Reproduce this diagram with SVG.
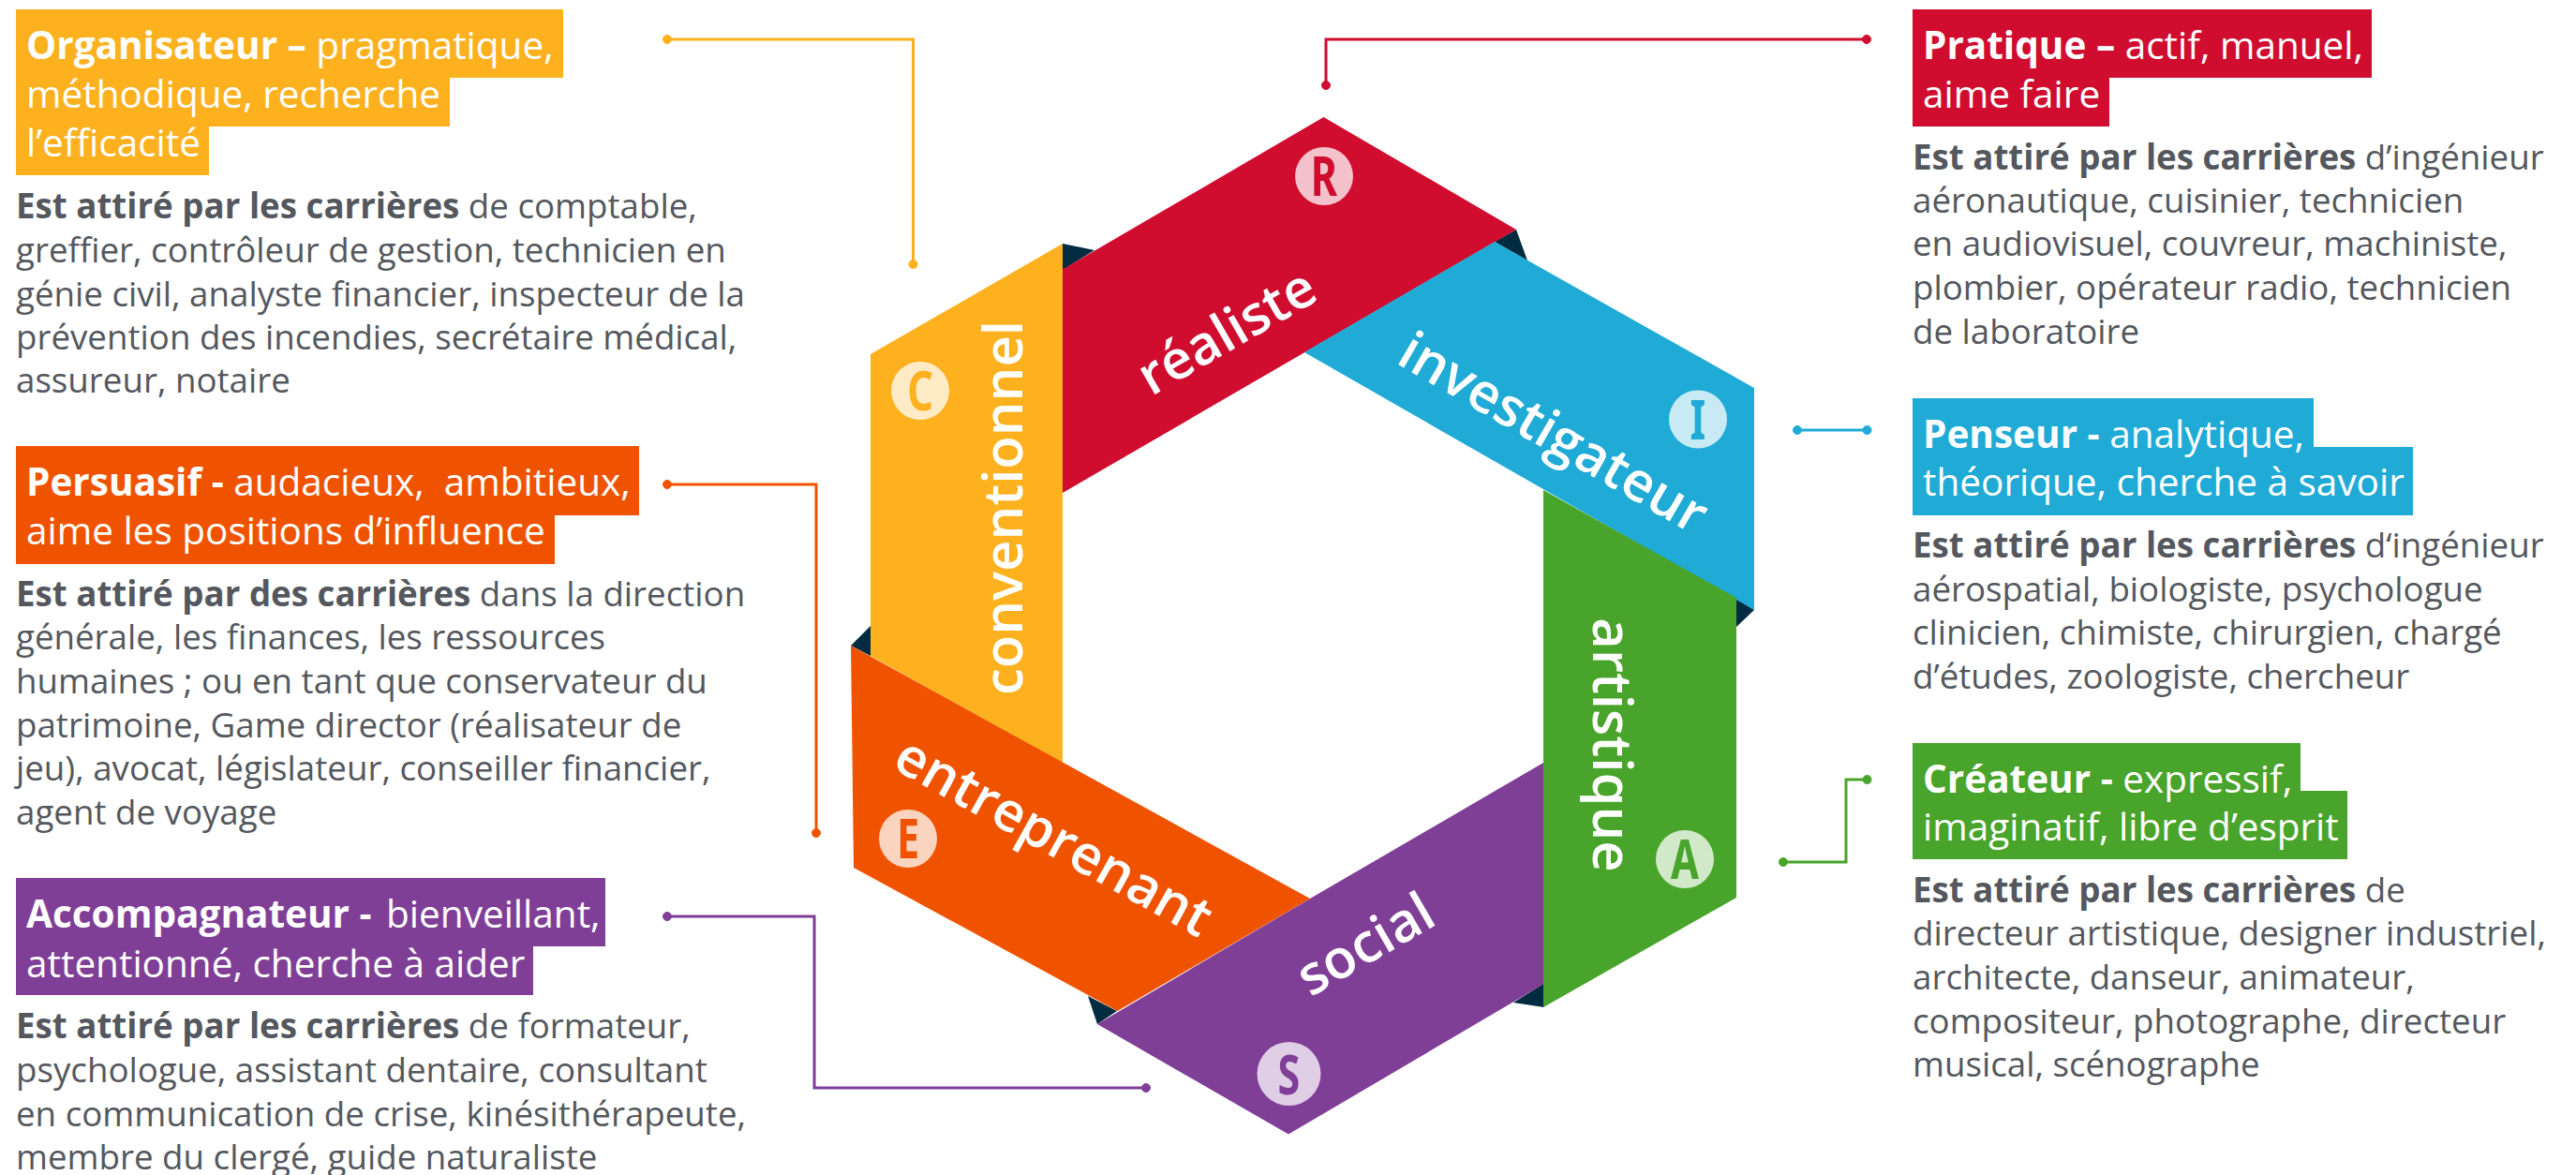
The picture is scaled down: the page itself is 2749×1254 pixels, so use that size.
<svg xmlns="http://www.w3.org/2000/svg" width="2749" height="1254" viewBox="0 0 2749 1254">
<style>
text{font-family:"Open Sans","Noto Sans","DejaVu Sans",sans-serif}
.h{font-size:40.5px;fill:#fff}
.t{font-size:36.7px;fill:#54585e}
.b{font-weight:700}
.l{font-size:58px;font-weight:600;fill:#fff;text-anchor:middle}
.k{font-family:"Noto Sans",sans-serif;font-size:60px;font-weight:700;text-anchor:middle}
.c{fill:#fff;fill-opacity:.75}
.d{fill:#002b40}
.w{fill:none;stroke-width:3}
</style>
<rect width="2749" height="1254" fill="#fff"/>
<g id="connectors">
<g stroke="#fdb11f" fill="#fdb11f"><path class="w" d="M712 42H974.5V282"/><circle cx="712" cy="42" r="4.5"/><circle cx="974.5" cy="282" r="4.5"/></g>
<g stroke="#d00c2f" fill="#d00c2f"><path class="w" d="M1992 42H1415V91"/><circle cx="1992" cy="42" r="4.5"/><circle cx="1415" cy="91" r="4.5"/></g>
<g stroke="#f05300" fill="#f05300"><path class="w" d="M712 517H871V889"/><circle cx="712" cy="517" r="4.5"/><circle cx="871" cy="889" r="4.5"/></g>
<g stroke="#20abd6" fill="#20abd6"><path class="w" d="M1918 459H1992.5"/><circle cx="1918" cy="459" r="4.5"/><circle cx="1992.5" cy="459" r="4.5"/></g>
<g stroke="#803f97" fill="#803f97"><path class="w" d="M712 978H869V1161H1223"/><circle cx="712" cy="978" r="4.5"/><circle cx="1223" cy="1161" r="4.5"/></g>
<g stroke="#48a42a" fill="#48a42a"><path class="w" d="M1903 920H1970V832H1992.5"/><circle cx="1903" cy="920" r="4.5"/><circle cx="1992.5" cy="832" r="4.5"/></g>
</g>
<g id="folds">
<polygon class="d" points="1134,260 1168,267 1134,288"/>
<polygon class="d" points="1618,245 1630,278 1595,258"/>
<polygon class="d" points="1872,651 1853,669 1853,638"/>
<polygon class="d" points="1647,1050 1648,1075 1615,1070"/>
<polygon class="d" points="1161,1063 1171,1093 1192,1079"/>
<polygon class="d" points="929,668 908,689 929,700"/>
</g>
<g id="node-C">
<polygon fill="#fdb11f" points="1134,260 929,378 929,700 1134,814"/>
<circle class="c" cx="982" cy="417" r="31"/>
<text class="k" fill="#fdb11f" transform="translate(982 438) scale(.72 1)">C</text>
<text class="l" transform="translate(1090.5 542) rotate(-90)">conventionnel</text>
</g>
<g id="node-R">
<polygon fill="#d00c2f" points="1412.5,125 1618,245 1134,526 1134,287.5"/>
<circle class="c" cx="1413" cy="188" r="31"/>
<text class="k" fill="#d00c2f" transform="translate(1413 209) scale(.72 1)">R</text>
<text class="l" transform="translate(1319 371) rotate(-30)">réaliste</text>
</g>
<g id="node-I">
<polygon fill="#20abd6" points="1392,376 1595,258 1872,414 1872,651"/>
<circle class="c" cx="1812" cy="447.5" r="31"/>
<text class="k" fill="#20abd6" transform="translate(1812 469) scale(.72 1)">I</text>
<text class="l" transform="translate(1648 479) rotate(30)">investigateur</text>
</g>
<g id="node-A">
<polygon fill="#48a42a" points="1647,523 1853,638 1853,958 1647,1075"/>
<circle class="c" cx="1798" cy="917" r="31"/>
<text class="k" fill="#48a42a" transform="translate(1798 938) scale(.72 1)">A</text>
<text class="l" transform="translate(1699.5 795) rotate(90)">artistique</text>
</g>
<g id="node-S">
<polygon fill="#803f97" points="1398,959 1647,814 1647,1050.5 1375,1210.5 1171,1093"/>
<circle class="c" cx="1375.5" cy="1146" r="34"/>
<text class="k" fill="#803f97" transform="translate(1375.5 1168) scale(.72 1)">S</text>
<text class="l" transform="translate(1467 1025) rotate(-30)">social</text>
</g>
<g id="node-E">
<polygon fill="#f05300" points="908,689 1398,959 1192.5,1079 911,926"/>
<circle class="c" cx="969" cy="895" r="31"/>
<text class="k" fill="#f05300" transform="translate(969 916) scale(.72 1)">E</text>
<text class="l" transform="translate(1115 910) rotate(29)">entreprenant</text>
</g>
<g id="card-organisateur">
<path fill="#fdb11f" d="M17 10H601V83H480V135H223V187H17Z"/>
<text class="h" x="28" y="63"><tspan class="b">Organisateur – </tspan>pragmatique,</text>
<text class="h" x="28" y="115">méthodique, recherche</text>
<text class="h" x="28" y="167">l’efficacité</text>
<text class="t" x="17" y="233"><tspan class="b">Est attiré par les carrières</tspan> de comptable,</text>
<text class="t" x="17" y="280">greffier, contrôleur de gestion, technicien en</text>
<text class="t" x="17" y="327">génie civil, analyste financier, inspecteur de la</text>
<text class="t" x="17" y="373">prévention des incendies, secrétaire médical,</text>
<text class="t" x="17" y="419">assureur, notaire</text>
</g>
<g id="card-persuasif">
<path fill="#f05300" d="M17 476H682V550H592V602H17Z"/>
<text class="h" x="28" y="529" xml:space="preserve"><tspan class="b">Persuasif - </tspan>audacieux,  ambitieux,</text>
<text class="h" x="28" y="581">aime les positions d’influence</text>
<text class="t" x="17" y="647"><tspan class="b">Est attiré par des carrières</tspan> dans la direction</text>
<text class="t" x="17" y="693">générale, les finances, les ressources</text>
<text class="t" x="17" y="740">humaines ; ou en tant que conservateur du</text>
<text class="t" x="17" y="787">patrimoine, Game director (réalisateur de</text>
<text class="t" x="17" y="833">jeu), avocat, législateur, conseiller financier,</text>
<text class="t" x="17" y="880">agent de voyage</text>
</g>
<g id="card-accompagnateur">
<path fill="#803f97" d="M17 937H646V1010H569V1062H17Z"/>
<text class="h" x="28" y="990"><tspan class="b">Accompagnateur - </tspan><tspan dx="5">bienveillant,</tspan></text>
<text class="h" x="28" y="1043">attentionné, cherche à aider</text>
<text class="t" x="17" y="1108"><tspan class="b">Est attiré par les carrières</tspan> de formateur,</text>
<text class="t" x="17" y="1155">psychologue, assistant dentaire, consultant</text>
<text class="t" x="17" y="1202">en communication de crise, kinésithérapeute,</text>
<text class="t" x="17" y="1248">membre du clergé, guide naturaliste</text>
</g>
<g id="card-pratique">
<path fill="#d00c2f" d="M2041 10H2531V83H2251V135H2041Z"/>
<text class="h" x="2052" y="63"><tspan class="b">Pratique – </tspan>actif, manuel,</text>
<text class="h" x="2052" y="115">aime faire</text>
<text class="t" x="2041" y="181"><tspan class="b">Est attiré par les carrières</tspan> d’ingénieur</text>
<text class="t" x="2041" y="227">aéronautique, cuisinier, technicien</text>
<text class="t" x="2041" y="273">en audiovisuel, couvreur, machiniste,</text>
<text class="t" x="2041" y="320">plombier, opérateur radio, technicien</text>
<text class="t" x="2041" y="367">de laboratoire</text>
</g>
<g id="card-penseur">
<path fill="#20abd6" d="M2041 425H2469V477H2575V550H2041Z"/>
<text class="h" x="2052" y="478"><tspan class="b">Penseur - </tspan>analytique,</text>
<text class="h" x="2052" y="529">théorique, cherche à savoir</text>
<text class="t" x="2041" y="595"><tspan class="b">Est attiré par les carrières</tspan> d‘ingénieur</text>
<text class="t" x="2041" y="642">aérospatial, biologiste, psychologue</text>
<text class="t" x="2041" y="688">clinicien, chimiste, chirurgien, chargé</text>
<text class="t" x="2041" y="735">d’études, zoologiste, chercheur</text>
</g>
<g id="card-createur">
<path fill="#48a42a" d="M2041 793H2455V844H2505V917H2041Z"/>
<text class="h" x="2052" y="846"><tspan class="b">Créateur - </tspan>expressif,</text>
<text class="h" x="2052" y="897">imaginatif, libre d’esprit</text>
<text class="t" x="2041" y="963"><tspan class="b">Est attiré par les carrières</tspan> de</text>
<text class="t" x="2041" y="1009">directeur artistique, designer industriel,</text>
<text class="t" x="2041" y="1056">architecte, danseur, animateur,</text>
<text class="t" x="2041" y="1103">compositeur, photographe, directeur</text>
<text class="t" x="2041" y="1149">musical, scénographe</text>
</g>
</svg>
